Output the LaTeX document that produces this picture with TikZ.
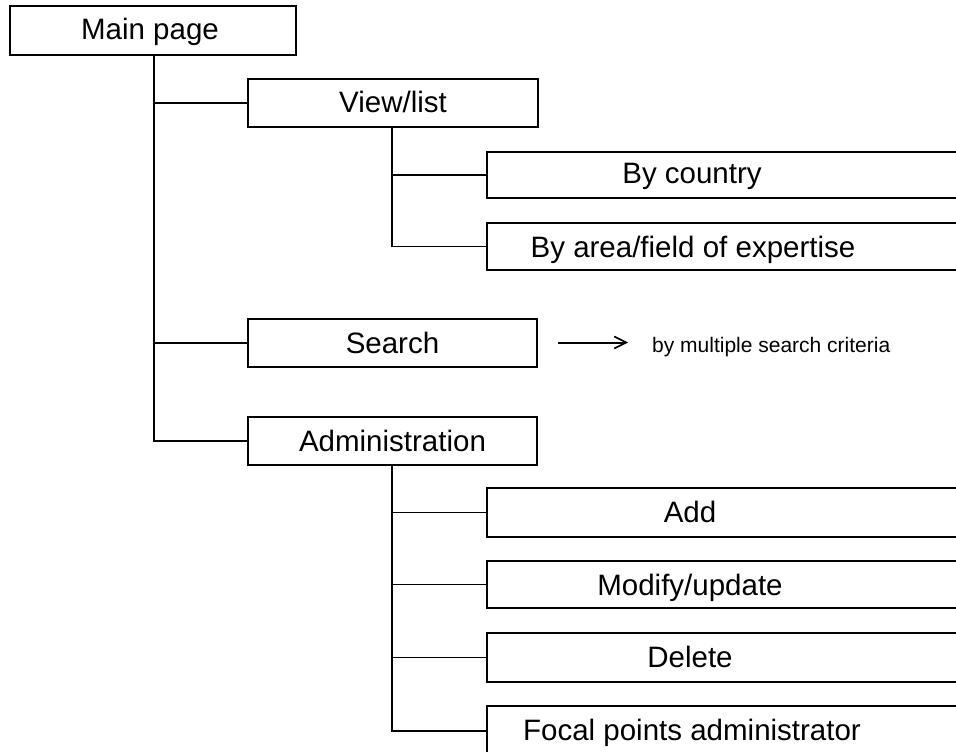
\documentclass[tikz,border=0pt]{standalone}
\usepackage{fontspec}
\setmainfont{Liberation Sans}
\usetikzlibrary{arrows.meta}
\begin{document}
\begin{tikzpicture}[x=1pt,y=-1pt,
  box/.style={draw,line width=1.3pt,rectangle,inner sep=0pt},
  lbl/.style={font=\fontsize{29.5}{34}\selectfont,inner sep=0pt,anchor=base},
  wire/.style={line width=1.3pt},
  small/.style={font=\fontsize{21}{25}\selectfont,inner sep=0pt,anchor=base west}]
  \clip (0,0) rectangle (956,752);
  \fill[white] (0,0) rectangle (956,752);

  % top level
  \node[box,minimum width=286pt,minimum height=49pt] (main) at (153,30.5) {};
  \node[lbl] (mainl) at (150,40) {Main page};

  % second level
  \node[box,minimum width=290pt,minimum height=48pt] (view) at (393,103) {};
  \node[lbl] at (393,112) {View/list};
  \node[box,minimum width=289pt,minimum height=48pt] (search) at (392.5,343) {};
  \node[lbl] at (392.5,353) {Search};
  \node[box,minimum width=289pt,minimum height=48pt] (admin) at (392.5,441) {};
  \node[lbl] at (392.5,451) {Administration};

  % third level boxes (run past the right edge)
  \node[box,minimum width=520pt,minimum height=46pt] (bycountry) at (747,175) {};
  \node[lbl] at (692,183) {By country};
  \node[box,minimum width=520pt,minimum height=47pt] (byarea) at (747,246.5) {};
  \node[lbl] at (693,257) {By area/field of expertise};

  \node[box,minimum width=520pt,minimum height=49pt] (add) at (747,512.5) {};
  \node[lbl] at (690,522) {Add};
  \node[box,minimum width=520pt,minimum height=47pt] (modify) at (747,584.5) {};
  \node[lbl] at (690,595) {Modify/update};
  \node[box,minimum width=520pt,minimum height=49pt] (delete) at (747,657.5) {};
  \node[lbl] at (690,667) {Delete};
  \node[box,minimum width=520pt,minimum height=50pt] (focal) at (747,731) {};
  \node[lbl] at (692,740) {Focal points administrator};

  % search note
  \coordinate (arrstart) at (558,342.5);
  \coordinate (arrend) at (628,342.5);
  \node[small] (note) at (652,352) {by multiple search criteria};
  \draw[line width=2pt,-{Straight Barb[length=12pt,width=12pt,line width=1.6pt]}] (arrstart) -- (arrend);

  % connectors: main page
  \draw[wire] (main.south -| 154,0) |- (admin.west);
  \draw[wire] (154,0 |- view.west) -- (view.west);
  \draw[wire] (154,0 |- search.west) -- (search.west);

  % connectors: view/list
  \draw[wire] (view.south -| 392,0) |- (byarea.west);
  \draw[wire] (392,0 |- bycountry.west) -- (bycountry.west);

  % connectors: administration
  \draw[wire] (admin.south -| 392,0) |- (focal.west);
  \draw[wire] (392,0 |- add.west) -- (add.west);
  \draw[wire] (392,0 |- modify.west) -- (modify.west);
  \draw[wire] (392,0 |- delete.west) -- (delete.west);
\end{tikzpicture}
\end{document}
